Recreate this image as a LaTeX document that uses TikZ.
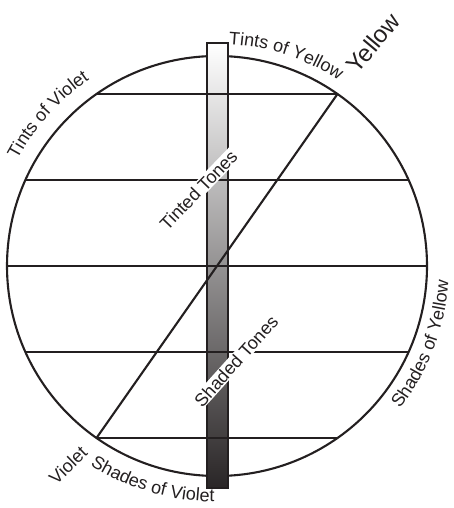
\documentclass[tikz,border=0pt]{standalone}
\usepackage{fontspec}
\setmainfont{Liberation Sans}
\usetikzlibrary{decorations.text,calc}
\definecolor{ink}{HTML}{231F20}
\newcommand\labfont{\fontsize{18}{20}\selectfont}
\begin{document}
\begin{tikzpicture}[x=1pt,y=1pt,
  ln/.style={draw=ink, line width=2.1pt},
  lab/.style={font=\labfont, text=ink, inner sep=0pt},
  curved/.style={decorate, decoration={text along path, text align=left, text={|\color{ink}\labfont|#1}}},
]
\useasboundingbox (0,0) rectangle (453,508);
\coordinate (C) at (217,242);
\draw[ln] (C) circle[radius=210];
\node[draw=ink, line width=2.1pt, top color=white, bottom color=ink!97, minimum width=21pt, minimum height=445pt, inner sep=0pt] (bar) at (217.5,242.5) {};
\coordinate (a1) at (96.5,414); \coordinate (b1) at (337.5,414);
\coordinate (a2) at (25.4,328); \coordinate (b2) at (408.6,328);
\coordinate (a3) at (7,242);    \coordinate (b3) at (427,242);
\coordinate (a4) at (25.4,156); \coordinate (b4) at (408.6,156);
\coordinate (a5) at (96.5,70);  \coordinate (b5) at (337.5,70);
\foreach \i in {1,...,5} {\draw[ln] (a\i) -- (b\i);}
\draw[ln] (a5) -- (b1);
\node[lab, fill=white, rotate=46, inner sep=1pt] (tinted) at (198.5,318) {Tinted Tones};
\node[lab, fill=white, rotate=48, inner sep=1pt] (shaded) at (236,147) {Shaded Tones};
\node[lab, font=\fontsize{24}{27}\selectfont, rotate=50] (yellow) at (373,465) {Yellow};
\node[lab, font=\fontsize{18}{20}\selectfont, rotate=44] (violet) at (68,43) {Violet};
\path[curved={Tints of Yellow}] ($(C)+(87:222)$) arc[start angle=87, end angle=40, radius=222];
\path[curved={Tints of Violet}] ($(C)+(152:226)$) arc[start angle=152, end angle=105, radius=226];
\path[curved={Shades of Violet}] ($(C)+(-122.5:236)$) arc[start angle=-122.5, end angle=-75, radius=236];
\path[curved={Shades of Yellow}] ($(C)+(-38:232)$) arc[start angle=-38, end angle=10, radius=232];
\end{tikzpicture}
\end{document}
